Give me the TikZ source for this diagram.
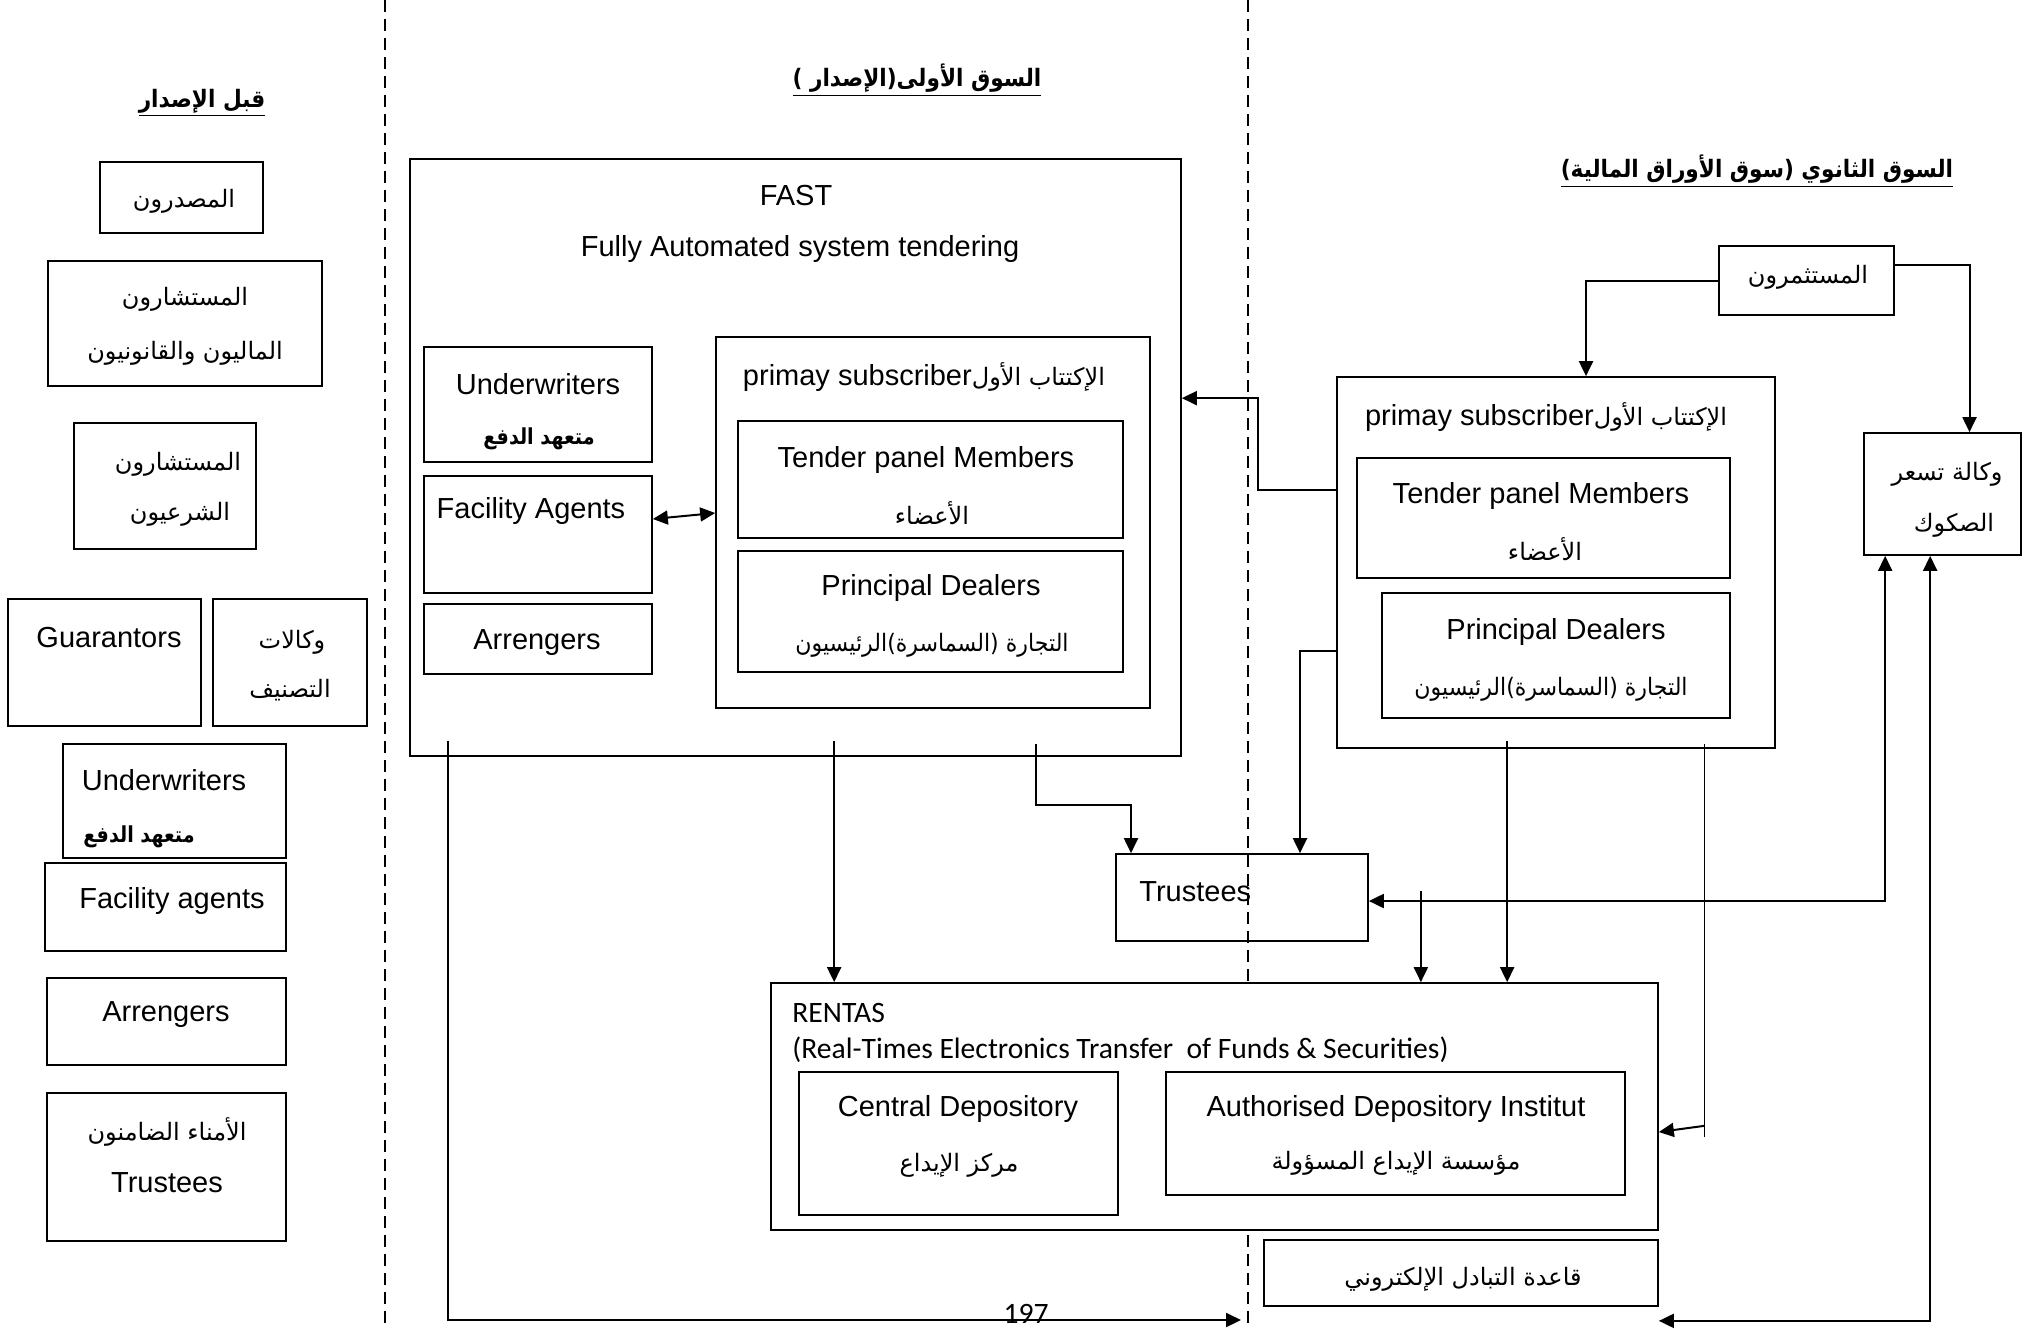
\documentclass[tikz,border=0pt]{standalone}
\usepackage{fontspec}
\setmainfont{Liberation Sans}
\newfontfamily\arfont[Script=Arabic]{DejaVu Sans}
\newfontfamily\carlitofont{Carlito}
\TeXXeTstate=1
\usetikzlibrary{arrows.meta,fit}
\newcommand\bx[6][]{\node[box,#1,fit={(#3,#4) (#5,#6)}] (#2) {};}
\newcommand\AR[1]{{\arfont\fontsize{12}{15}\selectfont\beginR #1\endR}}
\newcommand\ARB[1]{\scalebox{0.87}[1]{\hbox{\beginR #1\endR}}}
\newcommand\ARH[1]{\underline{\scalebox{0.9}[1]{\hbox{\beginR #1\endR}}}}
\begin{document}
\begin{tikzpicture}[x=0.5pt,y=-0.5pt,
  box/.style={draw, line width=0.85pt, inner sep=0pt},
  txt/.style={inner sep=0pt, font=\fontsize{14.5}{17}\selectfont},
  artxt/.style={inner sep=0pt, font=\fontsize{12}{15}\selectfont\arfont},
  arbold/.style={inner sep=0pt, font=\fontsize{11}{14}\selectfont\arfont\bfseries},
  arhead/.style={inner sep=0pt, font=\fontsize{12}{15}\selectfont\arfont\bfseries},
  caltxt/.style={inner sep=0pt, font=\fontsize{14.8}{17}\selectfont\carlitofont},
  conn/.style={line width=1pt},
  thinconn/.style={line width=0.55pt},
  arr/.style={conn, -{Triangle[length=7.5pt,width=7pt]}},
  dbl/.style={conn, {Triangle[length=7.5pt,width=7pt]}-{Triangle[length=7.5pt,width=7pt]}},
  sep/.style={dash pattern=on 6pt off 3.5pt, line width=0.9pt}]
\useasboundingbox (0,0) rectangle (2033,1328);

% separators
\coordinate (d1t) at (385,0);
\coordinate (d1b) at (385,1328);
\coordinate (d2t) at (1248,0);
\coordinate (d2b) at (1248,1328);
\draw[sep] (d1t) -- (d1b);
\draw[sep] (d2t) -- (d2b);

% headers
\node[arhead] (h1) at (202,103) {\ARH{قبل الإصدار}};
\node[arhead] (h2) at (917,80) {\ARH{السوق الأولى(الإصدار )}};
\node[arhead] (h3) at (1757,171) {\ARH{السوق الثانوي (سوق الأوراق المالية)}};

% left column
\bx{iss}{100}{162}{263}{233}
\node[artxt] (issT) at (184,201) {\beginR المصدرون\endR};
\bx{adv}{48}{261}{322}{386}
\node[artxt] (advT1) at (185,299) {\beginR المستشارون\endR};
\node[artxt] (advT2) at (185,353) {\beginR الماليون والقانونيون\endR};
\bx{shar}{74}{423}{256}{549}
\node[artxt] (sharT1) at (178,464) {\beginR المستشارون\endR};
\node[artxt] (sharT2) at (180,514) {\beginR الشرعيون\endR};
\bx{guar}{8}{599}{201}{726}
\node[txt] (guarT) at (109,638) {Guarantors};
\bx{rat}{213}{599}{367}{726}
\node[artxt] (ratT1) at (292,642) {\beginR وكالات\endR};
\node[artxt] (ratT2) at (290,690) {\beginR التصنيف\endR};
\bx{uw0}{63}{744}{286}{858}
\node[txt] (uw0T) at (164,780) {Underwriters};
\node[arbold,anchor=west] (uw0A) at (83,837) {\ARB{متعهد الدفع}};
\bx{fa0}{45}{863}{286}{951}
\node[txt] (fa0T) at (172,901) {Facility agents};
\bx{arr0}{47}{978}{286}{1065}
\node[txt] (arr0T) at (166,1015) {Arrengers};
\bx{tru0}{47}{1093}{286}{1241}
\node[artxt] (tru0A) at (167,1132) {\beginR الأمناء الضامنون\endR};
\node[txt] (tru0T) at (167,1183) {Trustees};

% FAST
\bx{fast}{410}{159}{1181}{756}
\node[txt] (fastT) at (796,196) {FAST};
\node[txt] (fastT2) at (800,249) {Fully Automated system tendering};
\bx{uw1}{424}{347}{652}{462}
\node[txt] (uw1T) at (538,384) {Underwriters};
\node[arbold] (uw1A) at (539,439) {\ARB{متعهد الدفع}};
\bx{fa1}{424}{476}{652}{593}
\node[txt] (fa1T) at (531,511) {Facility Agents};
\bx{arr1}{424}{604}{652}{674}
\node[txt] (arr1T) at (537,643) {Arrengers};
\bx{prim1}{716}{337}{1150}{708}
\node[txt] (prim1T) at (924,377) {primay subscriber\AR{الإكتتاب الأول}};
\bx{tpm1}{738}{421}{1123}{538}
\node[txt] (tpm1T) at (926,460) {Tender panel Members};
\node[artxt] (tpm1A) at (932,513) {\beginR الأعضاء\endR};
\bx{pd1}{738}{551}{1123}{672}
\node[txt] (pd1T) at (931,588) {Principal Dealers};
\node[artxt] (pd1A) at (932,645) {\scalebox{0.92}[1]{\hbox{\beginR التجارة (السماسرة)الرئيسيون\endR}}};

% secondary market
\bx{inv}{1719}{246}{1894}{315}
\node[artxt] (invT) at (1808,277) {\beginR المستثمرون\endR};
\bx{vak}{1864}{433}{2021}{555}
\node[artxt] (vakT1) at (1947,474) {\beginR وكالة تسعر\endR};
\node[artxt] (vakT2) at (1954,525) {\beginR الصكوك\endR};
\bx{prim2}{1337}{377}{1775}{748}
\node[txt] (prim2T) at (1546,417) {primay subscriber\AR{الإكتتاب الأول}};
\bx{tpm2}{1357}{458}{1730}{578}
\node[txt] (tpm2T) at (1541,496) {Tender panel Members};
\node[artxt] (tpm2A) at (1545,549) {\beginR الأعضاء\endR};
\bx{pd2}{1382}{593}{1730}{718}
\node[txt] (pd2T) at (1556,632) {Principal Dealers};
\node[artxt] (pd2A) at (1551,689) {\scalebox{0.92}[1]{\hbox{\beginR التجارة (السماسرة)الرئيسيون\endR}}};

% trustees and RENTAS
\bx{tr2}{1116}{854}{1368}{941}
\node[txt,anchor=west] (tr2T) at (1139,892) {Trustees};
\bx[fill=white]{rentas}{771}{983}{1658}{1230}
\node[caltxt,anchor=west] (renT1) at (792,1013) {RENTAS};
\node[caltxt,anchor=west] (renT2) at (792,1050) {(Real-Times Electronics Transfer\ \ of Funds \& Securities)};
\bx{cd}{799}{1072}{1118}{1215}
\node[txt] (cdT) at (958,1109) {Central Depository};
\node[artxt] (cdA) at (959,1165) {\beginR مركز الإيداع\endR};
\bx{adi}{1166}{1072}{1625}{1195}
\node[txt] (adiT) at (1396,1109) {Authorised Depository Institut};
\node[artxt] (adiA) at (1396,1163) {\beginR مؤسسة الإيداع المسؤولة\endR};
\bx{qaeda}{1264}{1240}{1658}{1306}
\node[artxt] (qaedaT) at (1463,1279) {\beginR قاعدة التبادل الإلكتروني\endR};

% connectors
\draw[arr] (inv.west) -| ([xshift=15pt]prim2.north);
\draw[arr] ([yshift=-10pt]inv.north east) -| ([xshift=13.5pt]vak.north);
\draw[arr] ([yshift=-57pt]prim2.north west) -- ++(-78,0) |- ([yshift=-120pt]fast.north east);
\draw[arr] ([yshift=-137.5pt]prim2.north west) -| ([xshift=29pt]tr2.north);
\draw[arr] ([xshift=313.5pt,yshift=6.5pt]fast.south west) -- ++(0,61) -| ([xshift=-55.5pt]tr2.north);
\coordinate (fsA) at ([xshift=212.5pt,yshift=8pt]fast.south west);
\draw[arr] (fsA) -- (fsA |- rentas.north);
\coordinate (fsB) at ([xshift=19.5pt,yshift=8pt]fast.south west);
\coordinate (botL) at (1241,1320);
\draw[arr] (fsB) |- (botL);
\coordinate (psA) at ([xshift=85.5pt,yshift=4pt]prim2.south west);
\draw[arr] (psA) -- (psA |- rentas.north);
\coordinate (psB) at ([xshift=184pt,yshift=2.5pt]prim2.south west);
\coordinate (psBend) at ([yshift=-196.5pt]psB);
\draw[thinconn] (psB) -- (psBend);
\coordinate (psBarr) at ([yshift=-191pt]psB);
\draw[arr] (psBarr) -- ([yshift=-12.75pt]rentas.east);
\draw[dbl] ([yshift=-1.75pt]tr2.east) -| ([xshift=11pt]vak.south west);
\coordinate (qe) at ([yshift=-7pt]qaeda.south east);
\draw[dbl] (qe) -| ([xshift=33.5pt]vak.south west);
\coordinate (tc) at ([xshift=26pt,yshift=3.25pt]tr2.east);
\draw[arr] (tc) -- (tc |- rentas.north);
\draw[dbl] ([yshift=7.75pt]fa1.east) -- ([yshift=4.75pt]prim1.west);

\node[caltxt] (pg) at (1026,1314) {197};
\end{tikzpicture}
\end{document}
